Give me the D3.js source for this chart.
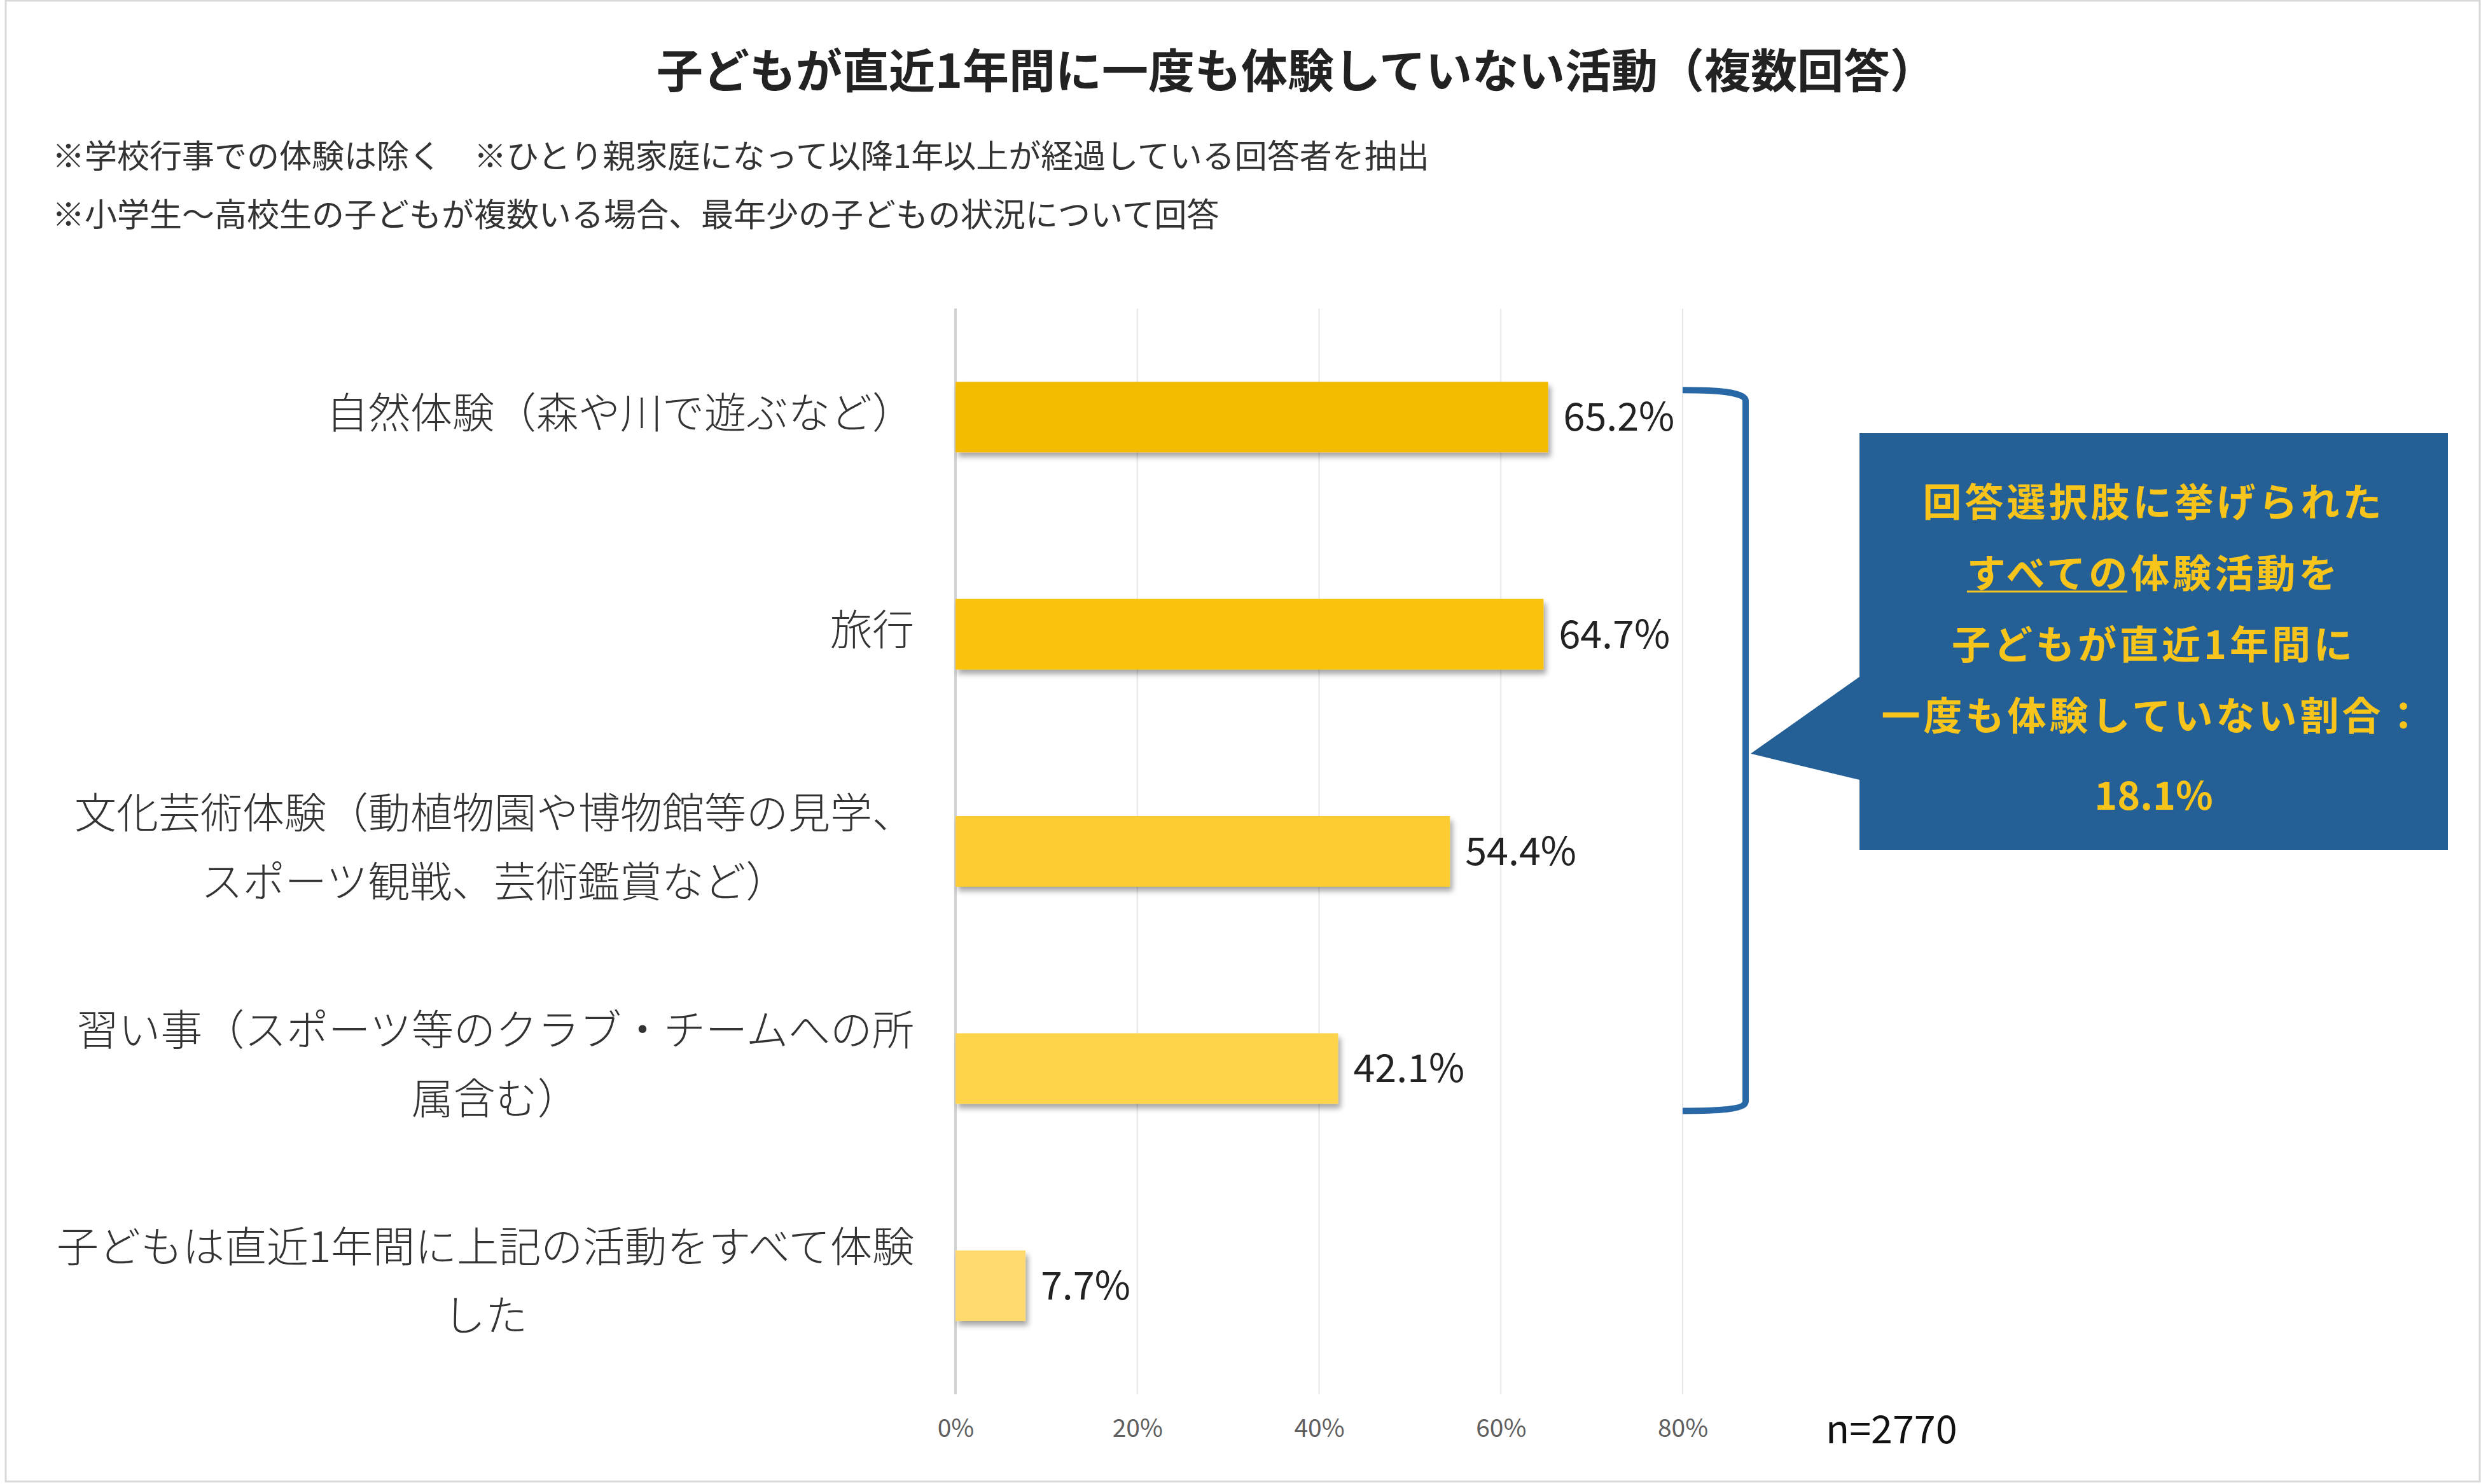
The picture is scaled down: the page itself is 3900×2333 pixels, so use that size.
<!DOCTYPE html>
<html>
<head>
<meta charset="utf-8">
<script src="https://cdn.jsdelivr.net/npm/d3@7"></script>
<style>
  html, body { margin: 0; padding: 0; background: #fff; }
  #chart { width: 3900px; height: 2333px; }
  text { font-family: "Noto Sans CJK JP", "Noto Sans", sans-serif; }
</style>
</head>
<body>
<div id="chart"></div>
<script>
const title = "子どもが直近1年間に一度も体験していない活動（複数回答）"
const notes = [
  "※学校行事での体験は除く　※ひとり親家庭になって以降1年以上が経過している回答者を抽出",
  "※小学生～高校生の子どもが複数いる場合、最年少の子どもの状況について回答"
]
const categories = ["自然体験", "旅行", "文化芸術体験", "習い事", "すべて体験"]
const labelLines = [
  ["自然体験（森や川で遊ぶなど）"],
  ["旅行"],
  ["文化芸術体験（動植物園や博物館等の見学、", "スポーツ観戦、芸術鑑賞など）"],
  ["習い事（スポーツ等のクラブ・チームへの所", "属含む）"],
  ["子どもは直近1年間に上記の活動をすべて体験", "した"]
]
const values = [65.2, 64.7, 54.4, 42.1, 7.7]
const barColors = ["#F4BC02", "#F9C20B", "#FDCB31", "#FED44C", "#FFDB6D"]
const tickValues = [0, 20, 40, 60, 80]
const sampleLabel = "n=2770"
const calloutLines = ["回答選択肢に挙げられた", "すべての体験活動を", "子どもが直近1年間に", "一度も体験していない割合：", "18.1%"]
const calloutUnderline = "すべての"

drawChart("#chart")

function drawChart(id){
  const canvas = createCanvas()
  d3.select(id).html("")
  const svg = d3.select(id).append("svg")
    .attr("width", canvas.width).attr("height", canvas.height)
    .attr("viewBox", `0 0 ${canvas.width} ${canvas.height}`)

  addDefs(svg)

  svg.append("rect").attr("x", 9).attr("y", 1).attr("width", canvas.width - 11).attr("height", canvas.height - 5)
    .attr("fill", "#fff").attr("stroke", "#d9d9d9").attr("stroke-width", 3)

  const x = d3.scaleLinear().domain([0, 80]).range([canvas.plot.left, canvas.plot.right])
  const y = d3.scaleBand().domain(categories).range([canvas.plot.top, canvas.plot.bottom])
    .paddingInner(0.675).paddingOuter(0.3375)

  draw_Header(svg, canvas)
  draw_Grid(svg, x, canvas)
  draw_Bars(svg, x, y)
  draw_Labels(svg, x, y, canvas)
  draw_Callout(svg, x, y)
}

function createCanvas(){
  return {
    width: 3900, height: 2333,
    plot: {left: 1502, right: 2645, top: 485, bottom: 2192},
    labelRight: 1437
  }
}

function addDefs(svg){
  const f = svg.append("defs").append("filter").attr("id", "barShadow")
    .attr("x", "-5%").attr("y", "-20%").attr("width", "115%").attr("height", "160%")
  f.append("feDropShadow").attr("dx", 4).attr("dy", 7).attr("stdDeviation", 4)
    .attr("flood-color", "#000").attr("flood-opacity", 0.35)
}

function draw_Header(svg, canvas){
  svg.append("text").attr("x", 2038).attr("y", 106)
    .attr("text-anchor", "middle").attr("dominant-baseline", "central")
    .attr("font-weight", "bold").attr("font-size", "73px").attr("fill", "#222").text(title)

  svg.selectAll(".note").data(notes).enter().append("text").attr("class", "note")
    .attr("x", 82).attr("y", (d, i) => 242 + i * 92)
    .attr("dominant-baseline", "central").attr("font-size", "51px").attr("fill", "#333")
    .text(d => d)
}

function draw_Grid(svg, x, canvas){
  svg.selectAll(".grid").data(tickValues.filter(d => d > 0)).enter().append("line").attr("class", "grid")
    .attr("x1", d => x(d)).attr("x2", d => x(d))
    .attr("y1", canvas.plot.top).attr("y2", canvas.plot.bottom)
    .attr("stroke", "#e6e6e6").attr("stroke-width", 2)

  svg.append("line").attr("x1", x(0)).attr("x2", x(0))
    .attr("y1", canvas.plot.top).attr("y2", canvas.plot.bottom)
    .attr("stroke", "#d2d2d2").attr("stroke-width", 4)

  const axis = svg.append("g").attr("transform", `translate(0,${canvas.plot.bottom})`)
    .call(d3.axisBottom(x).tickValues(tickValues).tickFormat(d => d + "%").tickSize(0))
  axis.select(".domain").remove()
  axis.selectAll("text").attr("y", 55).attr("dy", "0.32em")
    .attr("font-family", "'Liberation Sans', Arial, sans-serif").attr("font-size", "39px").attr("fill", "#5f5f5f")

  svg.append("text").attr("x", 2870).attr("y", canvas.plot.bottom + 55).attr("dy", "0.36em")
    .attr("font-family", "'Liberation Sans', Arial, sans-serif").attr("font-size", "61px").attr("fill", "#111")
    .text(sampleLabel)
}

function draw_Bars(svg, x, y){
  const data = categories.map((c, i) => ({cat: c, v: values[i], color: barColors[i]}))

  svg.selectAll(".bar").data(data).enter().append("rect").attr("class", "bar")
    .attr("x", x(0)).attr("y", d => y(d.cat))
    .attr("width", d => x(d.v) - x(0)).attr("height", y.bandwidth())
    .attr("fill", d => d.color).attr("filter", "url(#barShadow)")

  svg.selectAll(".val").data(data).enter().append("text").attr("class", "val")
    .attr("x", d => x(d.v) + 24).attr("y", d => y(d.cat) + y.bandwidth() / 2 - 5)
    .attr("dominant-baseline", "central")
    .attr("font-family", "'Liberation Sans', Arial, sans-serif").attr("font-size", "61px").attr("fill", "#222")
    .text(d => d.v.toFixed(1) + "%")
}

function draw_Labels(svg, x, y, canvas){
  const lineH = 108
  categories.forEach((c, i) => {
    const lines = labelLines[i]
    const cy = y(c) + y.bandwidth() / 2 - 12
    const g = svg.append("g").attr("class", "cat-label")
    const t = g.selectAll("text").data(lines).enter().append("text")
      .attr("y", (d, j) => cy + (j - (lines.length - 1) / 2) * lineH)
      .attr("dominant-baseline", "central").attr("font-size", "66px").attr("font-weight", 300).attr("fill", "#333")
      .text(d => d)
    if(lines.length === 1){
      t.attr("x", canvas.labelRight).attr("text-anchor", "end")
    } else {
      const w = t.nodes()[0].getComputedTextLength()
      t.attr("x", canvas.labelRight - w / 2).attr("text-anchor", "middle")
    }
  })
}

function draw_Callout(svg, x, y){
  const color = "#245F96"
  const bx = x(80) + 99
  const top = y(categories[0]) + 13
  const bottom = y(categories[3]) + y.bandwidth() + 11

  svg.append("path")
    .attr("d", `M${x(80)},${top} C${bx - 45},${top} ${bx},${top + 3} ${bx},${top + 17} L${bx},${bottom - 15} C${bx},${bottom - 2} ${bx - 45},${bottom} ${x(80)},${bottom}`)
    .attr("fill", "none").attr("stroke", "#2968A6").attr("stroke-width", 10)

  const box = {x: 2923, y: 681, w: 925, h: 655}
  const tipY = (top + bottom) / 2 + 5
  svg.append("path")
    .attr("d", `M${box.x},${box.y} H${box.x + box.w} V${box.y + box.h} H${box.x} V1226 L${bx + 8},${tipY} L${box.x},1064 Z`)
    .attr("fill", color)

  const cx = box.x + box.w / 2
  const ys = [785, 897, 1009, 1121, 1246]
  calloutLines.forEach((line, i) => {
    const t = svg.append("text").attr("x", cx).attr("y", ys[i])
      .attr("text-anchor", "middle").attr("dominant-baseline", "central")
      .attr("font-weight", "bold").attr("font-size", "61px")
      .attr("letter-spacing", /^[\d.%]+$/.test(line) ? "0px" : "5px")
      .attr("fill", "#F7C41C")
    if(line.startsWith(calloutUnderline)){
      const u = t.append("tspan").text(calloutUnderline)
      t.append("tspan").text(line.slice(calloutUnderline.length))
      const bb = u.node().getBBox()
      svg.append("line").attr("x1", bb.x).attr("x2", bb.x + bb.width - 5)
        .attr("y1", ys[i] + 33).attr("y2", ys[i] + 33)
        .attr("stroke", "#F7C41C").attr("stroke-width", 3)
    } else {
      t.text(line)
    }
  })
}
</script>
</body>
</html>
